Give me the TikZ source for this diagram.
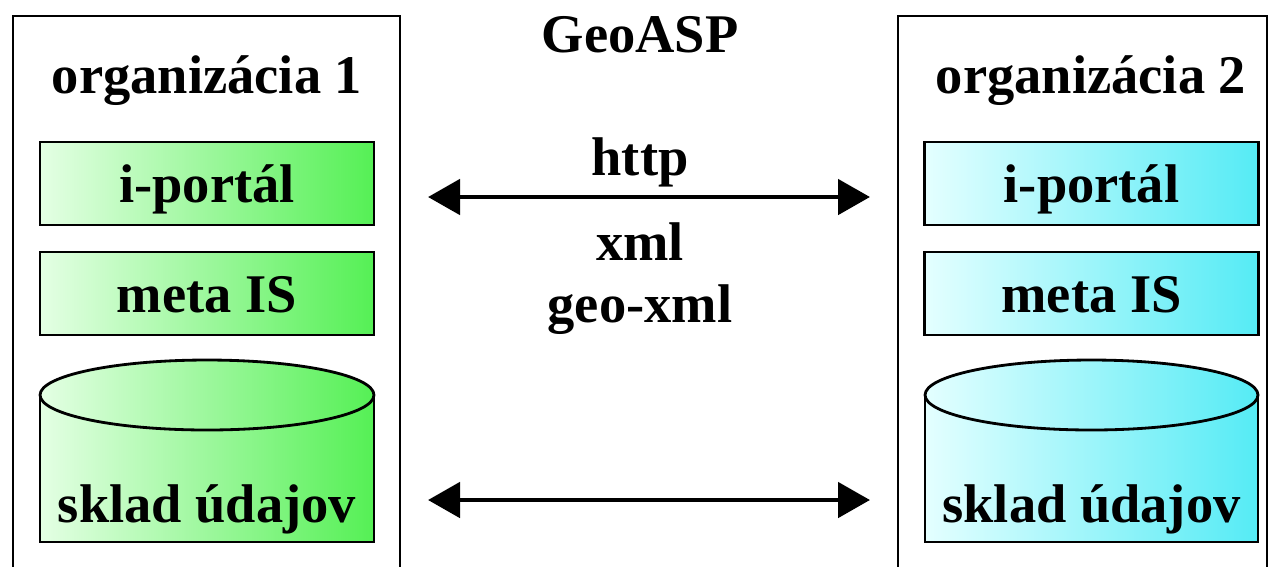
\documentclass[tikz,border=0pt]{standalone}
\usepackage{fontspec}
\setmainfont{Liberation Serif}
\usepackage{xcolor}
\usepackage{tikz}
\usetikzlibrary{arrows.meta,positioning,fit}

\definecolor{grnL}{RGB}{228,255,228}
\definecolor{grnR}{RGB}{85,240,85}
\definecolor{cynL}{RGB}{228,255,255}
\definecolor{cynR}{RGB}{85,235,245}

\tikzset{
  txt/.style={font=\fontsize{31}{37}\selectfont\bfseries, inner sep=0pt},
  frame/.style={draw, line width=1.6pt, inner sep=0pt},
  modul/.style={draw, line width=1.6pt, minimum width=6.68cm, minimum height=1.66cm,
    inner sep=0pt, txt, text height=0.74cm, text depth=0pt},
  link/.style={line width=2.8pt, {Triangle[length=0.64cm,width=0.7cm]}-{Triangle[length=0.64cm,width=0.7cm]}}
}

\begin{document}
\begin{tikzpicture}[x=0.02cm,y=-0.02cm]
    \useasboundingbox (0,0) rectangle (1270,566);
    \fill[white] (0,0) rectangle (1270,566);

    % Organizacia 1
    \node [frame, fit={(13,16) (400,640)}] (org1) {};
    \node [txt, anchor=base] (org1t) at (207,93) {organizácia 1};
    \node [modul, left color=grnL, right color=grnR] (portal1) at (207,183.5) {i-portál};
    \node [modul, left color=grnL, right color=grnR] (meta1) at (207,293.5) {meta IS};
    \draw [left color=grnL, right color=grnR, line width=1.6pt] (40,395) rectangle (374,542);
    \draw [left color=grnL, right color=grnR, line width=1.6pt] (207,395) ellipse (3.34cm and 0.7cm); % top of the store
    \node [txt, anchor=base] (sklad1) at (207,522) {sklad údajov};

    % Organizacia 2
    \node [frame, fit={(898,16) (1267,640)}] (org2) {};
    \node [txt, anchor=base] (org2t) at (1091,93) {organizácia 2};
    \node [modul, left color=cynL, right color=cynR] (portal2) at (1091.5,183.5) {i-portál};
    \node [modul, left color=cynL, right color=cynR] (meta2) at (1091.5,293.5) {meta IS};
    \draw [left color=cynL, right color=cynR, line width=1.6pt] (925,395) rectangle (1258,542);
    \draw [left color=cynL, right color=cynR, line width=1.6pt] (1091.5,395) ellipse (3.33cm and 0.7cm);
    \node [txt, anchor=base] (sklad2) at (1091.5,522) {sklad údajov};

    % GeoASP links
    \node [txt, anchor=base] (geoasp) at (640,52) {GeoASP};
    \node [txt, anchor=base] (http) at (640,175) {http};
    \node [txt, anchor=base] (xml) at (640,260) {xml};
    \node [txt, anchor=base] (geoxml) at (640,322) {geo-xml};
    \coordinate (top1) at (428,197);
    \coordinate (top2) at (870,197);
    \coordinate (bot1) at (428,500);
    \coordinate (bot2) at (870,500);
    \draw [link] (top1) -- (top2);
    \draw [link] (bot1) -- (bot2);
\end{tikzpicture}
\end{document}
